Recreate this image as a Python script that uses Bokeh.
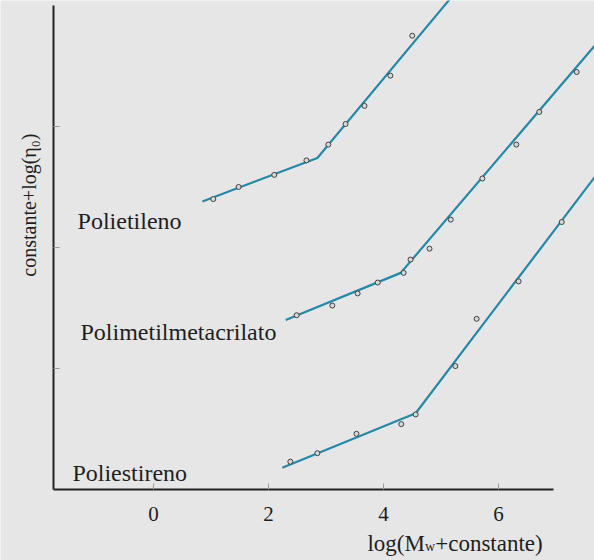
import math
from bokeh.plotting import figure
from bokeh.models import Label, FixedTicker, Range1d
from bokeh.embed import file_html
from bokeh.resources import INLINE

# ---- data ----
pe_x = [1.04, 1.48, 2.10, 2.66, 3.04, 3.34, 3.67, 4.12, 4.50]
pe_y = [2.40, 2.50, 2.60, 2.72, 2.85, 3.02, 3.17, 3.42, 3.75]
pe_fit_x = [0.85, 2.85, 5.15]
pe_fit_y = [2.38, 2.74, 4.05]

pmma_x = [2.49, 3.11, 3.55, 3.90, 4.35, 4.47, 4.80, 5.17, 5.72, 6.31, 6.71, 7.36]
pmma_y = [1.44, 1.52, 1.62, 1.71, 1.79, 1.90, 1.99, 2.23, 2.57, 2.85, 3.12, 3.45]
pmma_fit_x = [2.30, 4.30, 7.75]
pmma_fit_y = [1.40, 1.79, 3.71]

ps_x = [2.38, 2.85, 3.53, 4.31, 4.56, 5.25, 5.62, 6.35, 7.10]
ps_y = [0.23, 0.30, 0.46, 0.54, 0.62, 1.02, 1.41, 1.72, 2.21]
ps_fit_x = [2.24, 4.56, 7.75]
ps_fit_y = [0.18, 0.63, 2.63]

names = ["Polietileno", "Polimetilmetacrilato", "Poliestireno"]
x_ticks = [0, 2, 4, 6]
y_ticks = [1, 2, 3]
x_label_parts = ["log(M", "w", "+constante)"]
y_label = "constante+log(\u03b7\u2080)"

BG = "#e6e6e6"
LINE = "#2389a8"
TXT = "#1e1e1e"
FONT = "Liberation Serif"

X0, X1 = -1.739, 6.96   # axis extents
Y1 = 4.0

p = figure(width=594, height=560, output_backend="svg", toolbar_location=None,
           x_range=Range1d(-2.661, 7.67), y_range=Range1d(-0.587, 4.041),
           min_border_left=0, min_border_right=0, min_border_top=0, min_border_bottom=0)
p.background_fill_color = BG
p.border_fill_color = BG
p.outline_line_color = None
p.grid.visible = False

# axes drawn inside the frame at fixed positions
p.xaxis.fixed_location = 0
p.xaxis.ticker = FixedTicker(ticks=x_ticks)
p.xaxis.bounds = (X0, X1)
p.xaxis.axis_line_color = "#222222"
p.xaxis.axis_line_width = 2
p.xaxis.major_tick_in = 6
p.xaxis.major_tick_out = 0
p.xaxis.major_tick_line_color = "#9a9a9a"
p.xaxis.minor_tick_line_color = None
p.xaxis.major_label_text_font = FONT
p.xaxis.major_label_text_font_size = "21px"
p.xaxis.major_label_text_color = TXT
p.xaxis.major_label_standoff = 18

p.yaxis.fixed_location = X0
p.yaxis.ticker = FixedTicker(ticks=y_ticks)
p.yaxis.bounds = (0, Y1)
p.yaxis.axis_line_color = "#222222"
p.yaxis.axis_line_width = 2
p.yaxis.major_tick_in = 6
p.yaxis.major_tick_out = 0
p.yaxis.major_tick_line_color = "#9a9a9a"
p.yaxis.minor_tick_line_color = None
p.yaxis.major_label_overrides = {t: "" for t in y_ticks}
p.yaxis.major_label_standoff = 0

# fit lines and points
for fx, fy, xs, ys in [(pe_fit_x, pe_fit_y, pe_x, pe_y),
                       (pmma_fit_x, pmma_fit_y, pmma_x, pmma_y),
                       (ps_fit_x, ps_fit_y, ps_x, ps_y)]:
    p.line(fx, fy, line_color=LINE, line_width=2.2)
    p.scatter(xs, ys, marker="circle", size=5, line_color="#404040",
              fill_color="#d8d8d8", line_width=1)

# series names
for name, (lx, ly) in zip(names, [(-1.32, 2.22), (-1.27, 1.30), (-1.41, 0.14)]):
    p.add_layout(Label(x=lx, y=ly, text=name, text_font=FONT, text_font_size="24px",
                       text_color=TXT, text_baseline="alphabetic"))

# y axis label
p.add_layout(Label(x=-2.17, y=2.35, text=y_label, angle=math.pi / 2, text_align="center",
                   text_baseline="middle", text_font=FONT, text_font_size="20px",
                   text_color=TXT))

# x axis label (with subscript)
p.add_layout(Label(x=3.72, y=-0.445, text=x_label_parts[0], text_font=FONT,
                   text_font_size="23px", text_color=TXT, text_baseline="alphabetic"))
p.add_layout(Label(x=4.72, y=-0.475, text=x_label_parts[1], text_font=FONT,
                   text_font_size="14px", text_color=TXT, text_baseline="alphabetic"))
p.add_layout(Label(x=4.90, y=-0.445, text=x_label_parts[2], text_font=FONT,
                   text_font_size="23px", text_color=TXT, text_baseline="alphabetic"))

open("out.html", "w").write(file_html(p, INLINE))
